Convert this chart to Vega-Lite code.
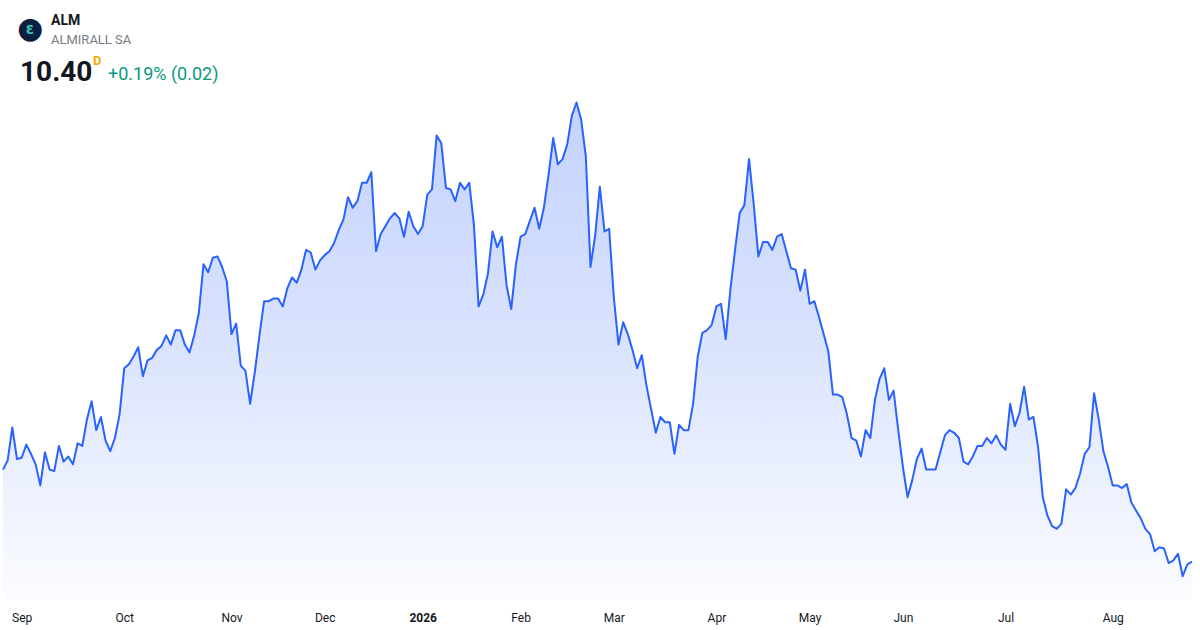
{
  "$schema": "https://vega.github.io/schema/vega-lite/v6.json",
  "width": 1189,
  "height": 505,
  "autosize": {"type": "none"},
  "padding": {"left": 3, "top": 95, "right": 8, "bottom": 30},
  "background": "white",
  "data": {
    "values": [
      {"date": "2025-08-26", "close": 11.10}, {"date": "2025-08-27", "close": 11.17}, {"date": "2025-08-28", "close": 11.42}, {"date": "2025-08-29", "close": 11.18},
      {"date": "2025-09-01", "close": 11.19}, {"date": "2025-09-02", "close": 11.29}, {"date": "2025-09-03", "close": 11.22}, {"date": "2025-09-04", "close": 11.14},
      {"date": "2025-09-05", "close": 10.98}, {"date": "2025-09-08", "close": 11.23}, {"date": "2025-09-09", "close": 11.10}, {"date": "2025-09-10", "close": 11.09},
      {"date": "2025-09-11", "close": 11.28}, {"date": "2025-09-12", "close": 11.16}, {"date": "2025-09-15", "close": 11.20}, {"date": "2025-09-16", "close": 11.14},
      {"date": "2025-09-17", "close": 11.30}, {"date": "2025-09-18", "close": 11.28}, {"date": "2025-09-19", "close": 11.48}, {"date": "2025-09-22", "close": 11.62},
      {"date": "2025-09-23", "close": 11.40}, {"date": "2025-09-24", "close": 11.50}, {"date": "2025-09-25", "close": 11.32}, {"date": "2025-09-26", "close": 11.24},
      {"date": "2025-09-29", "close": 11.34}, {"date": "2025-09-30", "close": 11.52},
      {"date": "2025-10-01", "close": 11.87}, {"date": "2025-10-02", "close": 11.90}, {"date": "2025-10-03", "close": 11.96}, {"date": "2025-10-06", "close": 12.03},
      {"date": "2025-10-07", "close": 11.81}, {"date": "2025-10-08", "close": 11.93}, {"date": "2025-10-09", "close": 11.95}, {"date": "2025-10-10", "close": 12.01},
      {"date": "2025-10-13", "close": 12.04}, {"date": "2025-10-14", "close": 12.12}, {"date": "2025-10-15", "close": 12.05}, {"date": "2025-10-16", "close": 12.16},
      {"date": "2025-10-17", "close": 12.16}, {"date": "2025-10-20", "close": 12.05}, {"date": "2025-10-21", "close": 11.99}, {"date": "2025-10-22", "close": 12.12},
      {"date": "2025-10-23", "close": 12.29}, {"date": "2025-10-24", "close": 12.66}, {"date": "2025-10-27", "close": 12.60}, {"date": "2025-10-28", "close": 12.71},
      {"date": "2025-10-29", "close": 12.72}, {"date": "2025-10-30", "close": 12.64}, {"date": "2025-10-31", "close": 12.53},
      {"date": "2025-11-03", "close": 12.13}, {"date": "2025-11-04", "close": 12.21}, {"date": "2025-11-05", "close": 11.89}, {"date": "2025-11-06", "close": 11.85},
      {"date": "2025-11-07", "close": 11.60}, {"date": "2025-11-10", "close": 11.84}, {"date": "2025-11-11", "close": 12.12}, {"date": "2025-11-12", "close": 12.38},
      {"date": "2025-11-13", "close": 12.38}, {"date": "2025-11-14", "close": 12.40}, {"date": "2025-11-17", "close": 12.40}, {"date": "2025-11-18", "close": 12.34},
      {"date": "2025-11-19", "close": 12.48}, {"date": "2025-11-20", "close": 12.56}, {"date": "2025-11-21", "close": 12.52}, {"date": "2025-11-24", "close": 12.62},
      {"date": "2025-11-25", "close": 12.77}, {"date": "2025-11-26", "close": 12.75}, {"date": "2025-11-27", "close": 12.62}, {"date": "2025-11-28", "close": 12.69},
      {"date": "2025-12-01", "close": 12.73}, {"date": "2025-12-02", "close": 12.76}, {"date": "2025-12-03", "close": 12.82}, {"date": "2025-12-04", "close": 12.92},
      {"date": "2025-12-05", "close": 13.00}, {"date": "2025-12-08", "close": 13.17}, {"date": "2025-12-09", "close": 13.09}, {"date": "2025-12-10", "close": 13.14},
      {"date": "2025-12-11", "close": 13.28}, {"date": "2025-12-12", "close": 13.28}, {"date": "2025-12-15", "close": 13.36}, {"date": "2025-12-16", "close": 12.76},
      {"date": "2025-12-17", "close": 12.89}, {"date": "2025-12-18", "close": 12.95}, {"date": "2025-12-19", "close": 13.01}, {"date": "2025-12-22", "close": 13.05},
      {"date": "2025-12-23", "close": 13.01}, {"date": "2025-12-24", "close": 12.87}, {"date": "2025-12-29", "close": 13.06}, {"date": "2025-12-30", "close": 12.95},
      {"date": "2025-12-31", "close": 12.89},
      {"date": "2026-01-02", "close": 12.95}, {"date": "2026-01-05", "close": 13.19}, {"date": "2026-01-06", "close": 13.23}, {"date": "2026-01-07", "close": 13.64},
      {"date": "2026-01-08", "close": 13.58}, {"date": "2026-01-09", "close": 13.24}, {"date": "2026-01-12", "close": 13.23}, {"date": "2026-01-13", "close": 13.14},
      {"date": "2026-01-14", "close": 13.28}, {"date": "2026-01-15", "close": 13.23}, {"date": "2026-01-16", "close": 13.28}, {"date": "2026-01-19", "close": 12.96},
      {"date": "2026-01-20", "close": 12.34}, {"date": "2026-01-21", "close": 12.43}, {"date": "2026-01-22", "close": 12.59}, {"date": "2026-01-23", "close": 12.91},
      {"date": "2026-01-26", "close": 12.79}, {"date": "2026-01-27", "close": 12.87}, {"date": "2026-01-28", "close": 12.50}, {"date": "2026-01-29", "close": 12.32},
      {"date": "2026-01-30", "close": 12.66},
      {"date": "2026-02-02", "close": 12.87}, {"date": "2026-02-03", "close": 12.89}, {"date": "2026-02-04", "close": 12.99}, {"date": "2026-02-05", "close": 13.09},
      {"date": "2026-02-06", "close": 12.93}, {"date": "2026-02-09", "close": 13.09}, {"date": "2026-02-10", "close": 13.34}, {"date": "2026-02-11", "close": 13.62},
      {"date": "2026-02-12", "close": 13.42}, {"date": "2026-02-13", "close": 13.46}, {"date": "2026-02-16", "close": 13.57}, {"date": "2026-02-17", "close": 13.79},
      {"date": "2026-02-18", "close": 13.89}, {"date": "2026-02-19", "close": 13.76}, {"date": "2026-02-20", "close": 13.48}, {"date": "2026-02-23", "close": 12.64},
      {"date": "2026-02-24", "close": 12.88}, {"date": "2026-02-25", "close": 13.25}, {"date": "2026-02-26", "close": 12.91}, {"date": "2026-02-27", "close": 12.93},
      {"date": "2026-03-02", "close": 12.41}, {"date": "2026-03-03", "close": 12.05}, {"date": "2026-03-04", "close": 12.22}, {"date": "2026-03-05", "close": 12.13},
      {"date": "2026-03-06", "close": 12.01}, {"date": "2026-03-09", "close": 11.87}, {"date": "2026-03-10", "close": 11.97}, {"date": "2026-03-11", "close": 11.74},
      {"date": "2026-03-12", "close": 11.56}, {"date": "2026-03-13", "close": 11.38}, {"date": "2026-03-16", "close": 11.50}, {"date": "2026-03-17", "close": 11.46},
      {"date": "2026-03-18", "close": 11.46}, {"date": "2026-03-19", "close": 11.22}, {"date": "2026-03-20", "close": 11.44}, {"date": "2026-03-23", "close": 11.40},
      {"date": "2026-03-24", "close": 11.40}, {"date": "2026-03-25", "close": 11.60}, {"date": "2026-03-26", "close": 11.96}, {"date": "2026-03-27", "close": 12.14},
      {"date": "2026-03-30", "close": 12.16}, {"date": "2026-03-31", "close": 12.20},
      {"date": "2026-04-01", "close": 12.34}, {"date": "2026-04-02", "close": 12.36}, {"date": "2026-04-07", "close": 12.09}, {"date": "2026-04-08", "close": 12.47},
      {"date": "2026-04-09", "close": 12.77}, {"date": "2026-04-10", "close": 13.05}, {"date": "2026-04-13", "close": 13.11}, {"date": "2026-04-14", "close": 13.46},
      {"date": "2026-04-15", "close": 13.12}, {"date": "2026-04-16", "close": 12.72}, {"date": "2026-04-17", "close": 12.83}, {"date": "2026-04-20", "close": 12.83},
      {"date": "2026-04-21", "close": 12.77}, {"date": "2026-04-22", "close": 12.87}, {"date": "2026-04-23", "close": 12.89}, {"date": "2026-04-24", "close": 12.76},
      {"date": "2026-04-27", "close": 12.63}, {"date": "2026-04-28", "close": 12.62}, {"date": "2026-04-29", "close": 12.46}, {"date": "2026-04-30", "close": 12.62},
      {"date": "2026-05-04", "close": 12.36}, {"date": "2026-05-05", "close": 12.38}, {"date": "2026-05-06", "close": 12.26}, {"date": "2026-05-07", "close": 12.13},
      {"date": "2026-05-08", "close": 12.00}, {"date": "2026-05-11", "close": 11.67}, {"date": "2026-05-12", "close": 11.67}, {"date": "2026-05-13", "close": 11.65},
      {"date": "2026-05-14", "close": 11.52}, {"date": "2026-05-15", "close": 11.34}, {"date": "2026-05-18", "close": 11.32}, {"date": "2026-05-19", "close": 11.20},
      {"date": "2026-05-20", "close": 11.40}, {"date": "2026-05-21", "close": 11.34}, {"date": "2026-05-22", "close": 11.63}, {"date": "2026-05-25", "close": 11.79},
      {"date": "2026-05-26", "close": 11.87}, {"date": "2026-05-27", "close": 11.63}, {"date": "2026-05-28", "close": 11.70}, {"date": "2026-05-29", "close": 11.40},
      {"date": "2026-06-01", "close": 11.12}, {"date": "2026-06-02", "close": 10.89}, {"date": "2026-06-03", "close": 11.02}, {"date": "2026-06-04", "close": 11.18},
      {"date": "2026-06-05", "close": 11.26}, {"date": "2026-06-08", "close": 11.10}, {"date": "2026-06-09", "close": 11.10}, {"date": "2026-06-10", "close": 11.10},
      {"date": "2026-06-11", "close": 11.23}, {"date": "2026-06-12", "close": 11.36}, {"date": "2026-06-15", "close": 11.40}, {"date": "2026-06-16", "close": 11.38},
      {"date": "2026-06-17", "close": 11.34}, {"date": "2026-06-18", "close": 11.16}, {"date": "2026-06-19", "close": 11.14}, {"date": "2026-06-22", "close": 11.20},
      {"date": "2026-06-23", "close": 11.28}, {"date": "2026-06-24", "close": 11.28}, {"date": "2026-06-25", "close": 11.34}, {"date": "2026-06-26", "close": 11.30},
      {"date": "2026-06-29", "close": 11.36}, {"date": "2026-06-30", "close": 11.29},
      {"date": "2026-07-01", "close": 11.25}, {"date": "2026-07-02", "close": 11.60}, {"date": "2026-07-03", "close": 11.43}, {"date": "2026-07-06", "close": 11.53},
      {"date": "2026-07-07", "close": 11.73}, {"date": "2026-07-08", "close": 11.48}, {"date": "2026-07-09", "close": 11.50}, {"date": "2026-07-10", "close": 11.27},
      {"date": "2026-07-13", "close": 10.89}, {"date": "2026-07-14", "close": 10.75}, {"date": "2026-07-15", "close": 10.67}, {"date": "2026-07-16", "close": 10.65},
      {"date": "2026-07-17", "close": 10.69}, {"date": "2026-07-20", "close": 10.95}, {"date": "2026-07-21", "close": 10.91}, {"date": "2026-07-22", "close": 10.96},
      {"date": "2026-07-23", "close": 11.07}, {"date": "2026-07-24", "close": 11.22}, {"date": "2026-07-27", "close": 11.27}, {"date": "2026-07-28", "close": 11.68},
      {"date": "2026-07-29", "close": 11.48}, {"date": "2026-07-30", "close": 11.24}, {"date": "2026-07-31", "close": 11.12},
      {"date": "2026-08-03", "close": 10.98}, {"date": "2026-08-04", "close": 10.98}, {"date": "2026-08-05", "close": 10.96}, {"date": "2026-08-06", "close": 10.99},
      {"date": "2026-08-07", "close": 10.85}, {"date": "2026-08-10", "close": 10.79}, {"date": "2026-08-11", "close": 10.73}, {"date": "2026-08-12", "close": 10.65},
      {"date": "2026-08-13", "close": 10.61}, {"date": "2026-08-14", "close": 10.48}, {"date": "2026-08-17", "close": 10.51}, {"date": "2026-08-18", "close": 10.50},
      {"date": "2026-08-19", "close": 10.39}, {"date": "2026-08-20", "close": 10.41}, {"date": "2026-08-21", "close": 10.46}, {"date": "2026-08-24", "close": 10.29},
      {"date": "2026-08-25", "close": 10.38}, {"date": "2026-08-26", "close": 10.40}
    ]
  },
  "layer": [
    {
      "encoding": {
        "x": {
          "field": "date",
          "type": "ordinal",
          "scale": {"type": "point", "padding": 0},
          "axis": {
            "title": null,
            "values": ["2025-09-01", "2025-10-01", "2025-11-03", "2025-12-01", "2026-01-02", "2026-02-02", "2026-03-02", "2026-04-01", "2026-05-04", "2026-06-01", "2026-07-01", "2026-08-03"],
            "labelExpr": "substring(datum.value, 5, 7) == '01' ? substring(datum.value, 0, 4) : substring('JanFebMarAprMayJunJulAugSepOctNovDec', (toNumber(substring(datum.value, 5, 7)) - 1) * 3, toNumber(substring(datum.value, 5, 7)) * 3)",
            "labelAngle": 0,
            "ticks": false,
            "domain": false,
            "grid": false,
            "labelPadding": 12,
            "labelFont": "Roboto",
            "labelFontSize": 12,
            "labelColor": "#131722",
            "labelFontWeight": {"condition": {"test": "substring(datum.value, 5, 7) == '01'", "value": "bold"}, "value": "normal"}
          }
        },
        "y": {
          "field": "close",
          "type": "quantitative",
          "scale": {"domain": [10.109, 13.947], "zero": false, "nice": false},
          "axis": null
        }
      },
      "layer": [
        {
          "mark": {
            "type": "area",
            "opacity": 1,
            "color": {
              "gradient": "linear",
              "x1": 0, "y1": 0, "x2": 0, "y2": 1,
              "stops": [
                {"offset": 0, "color": "#c3d2fd"},
                {"offset": 0.5, "color": "#dbe4fd"},
                {"offset": 1, "color": "#fbfcff"}
              ]
            }
          },
          "encoding": {
            "y2": {"datum": 10.109}
          }
        },
        {
          "mark": {"type": "line", "color": "#2962ff", "strokeWidth": 2, "strokeJoin": "round"}
        }
      ]
    },
    {
      "data": {"values": [{"t": "●"}]},
      "mark": {"type": "text", "font": "DejaVu Sans", "fontSize": 30, "color": "#0c1f3f", "align": "center", "baseline": "middle", "dx": 27, "dy": -52},
      "encoding": {
        "x": {"datum": "2025-08-26", "type": "ordinal"},
        "y": {"datum": 14.05, "type": "quantitative"},
        "text": {"field": "t"}
      }
    },
    {
      "data": {"values": [{"t": "ɛ"}]},
      "mark": {"type": "text", "font": "DejaVu Sans", "fontSize": 15, "fontWeight": "bold", "color": "#2ec4b6", "align": "center", "baseline": "middle", "dx": 27, "dy": -52},
      "encoding": {
        "x": {"datum": "2025-08-26", "type": "ordinal"},
        "y": {"datum": 14.05, "type": "quantitative"},
        "text": {"field": "t"}
      }
    },
    {
      "data": {"values": [{"t": "ALM"}]},
      "mark": {"type": "text", "font": "Roboto", "fontSize": 14, "fontWeight": "bold", "color": "#131722", "align": "left", "baseline": "alphabetic", "dx": 48, "dy": -56},
      "encoding": {
        "x": {"datum": "2025-08-26", "type": "ordinal"},
        "y": {"datum": 14.05, "type": "quantitative"},
        "text": {"field": "t"}
      }
    },
    {
      "data": {"values": [{"t": "ALMIRALL SA"}]},
      "mark": {"type": "text", "font": "Roboto", "fontSize": 13, "color": "#787b86", "align": "left", "baseline": "alphabetic", "dx": 48, "dy": -37},
      "encoding": {
        "x": {"datum": "2025-08-26", "type": "ordinal"},
        "y": {"datum": 14.05, "type": "quantitative"},
        "text": {"field": "t"}
      }
    },
    {
      "data": {"values": [{"t": "10.40"}]},
      "mark": {"type": "text", "font": "Roboto", "fontSize": 28, "fontWeight": "bold", "color": "#131722", "align": "left", "baseline": "alphabetic", "dx": 17},
      "encoding": {
        "x": {"datum": "2025-08-26", "type": "ordinal"},
        "y": {"datum": 14.05, "type": "quantitative"},
        "text": {"field": "t"}
      }
    },
    {
      "data": {"values": [{"t": "D"}]},
      "mark": {"type": "text", "font": "Roboto", "fontSize": 13, "fontWeight": "bold", "color": "#f7a600", "align": "left", "baseline": "alphabetic", "dx": 90, "dy": -16},
      "encoding": {
        "x": {"datum": "2025-08-26", "type": "ordinal"},
        "y": {"datum": 14.05, "type": "quantitative"},
        "text": {"field": "t"}
      }
    },
    {
      "data": {"values": [{"t": "+0.19% (0.02)"}]},
      "mark": {"type": "text", "font": "Roboto", "fontSize": 18, "color": "#089981", "align": "left", "baseline": "alphabetic", "dx": 105, "dy": -1},
      "encoding": {
        "x": {"datum": "2025-08-26", "type": "ordinal"},
        "y": {"datum": 14.05, "type": "quantitative"},
        "text": {"field": "t"}
      }
    }
  ],
  "config": {"view": {"stroke": null}}
}
